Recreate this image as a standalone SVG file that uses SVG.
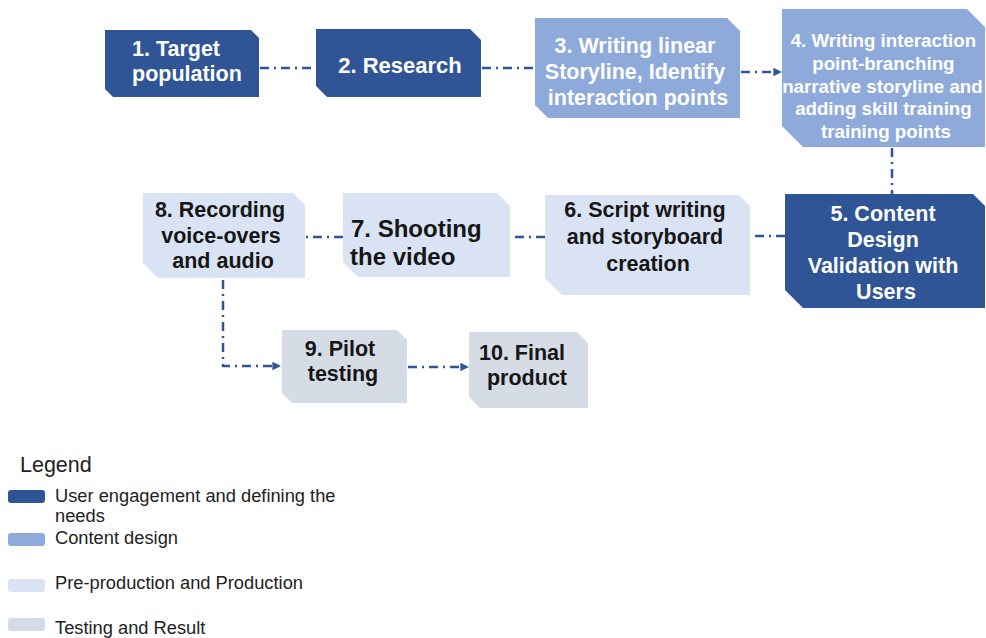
<svg xmlns="http://www.w3.org/2000/svg" width="986" height="638" viewBox="0 0 986 638">
  <style>
    .dark { fill: #2f5597; }
    .mid { fill: #8eaadb; }
    .light { fill: #dae3f3; }
    .test { fill: #d6dce5; }
    .lbl { font-family: "Liberation Sans", Arial, sans-serif; font-weight: bold; text-anchor: middle; }
    .w { fill: #ffffff; }
    .k { fill: #161616; }
    .conn { fill: none; stroke: #2f5597; stroke-width: 2.5; stroke-dasharray: 9 5 2 5; }
    .leg { font-family: "Liberation Sans", Arial, sans-serif; fill: #222222; font-size: 18.3px; }
  </style>
  <defs>
    <marker id="arrow" viewBox="0 0 10 10" refX="9" refY="5" markerWidth="3.4" markerHeight="3.4" orient="auto" markerUnits="strokeWidth">
      <path d="M0,0 L10,5 L0,10 z" fill="#2f5597"/>
    </marker>
  </defs>
  <rect width="986" height="638" fill="#ffffff"/>

  <!-- connectors -->
  <g id="connectors">
    <line class="conn" x1="260" y1="68" x2="316" y2="68"/>
    <line class="conn" x1="482" y1="68" x2="535" y2="68"/>
    <line class="conn" x1="741" y1="72" x2="781" y2="72" marker-end="url(#arrow)"/>
    <line class="conn" x1="892" y1="148" x2="892" y2="194"/>
    <line class="conn" x1="785" y1="236" x2="751" y2="236"/>
    <line class="conn" x1="545" y1="237" x2="511" y2="237"/>
    <line class="conn" x1="343" y1="237" x2="306" y2="237"/>
    <path class="conn" d="M223,280 L223,366 L280,366" marker-end="url(#arrow)"/>
    <line class="conn" x1="408" y1="367" x2="468" y2="367" marker-end="url(#arrow)"/>
  </g>

  <!-- process steps -->
  <g id="node1">
    <polygon class="dark" points="105,30 251,30 259,38 259,97 113,97 105,89"/>
    <text class="lbl w" font-size="21.5" style="text-anchor:start">
      <tspan x="132" y="56">1. Target</tspan>
      <tspan x="132" y="81">population</tspan>
    </text>
  </g>
  <g id="node2">
    <polygon class="dark" points="316,29 470,29 481,40 481,97 327,97 316,86"/>
    <text class="lbl w" font-size="22" x="400" y="73">2. Research</text>
  </g>
  <g id="node3">
    <polygon class="mid" points="535,18 727,18 740,31 740,118 548,118 535,105"/>
    <text class="lbl w" font-size="21.5">
      <tspan x="638" y="53">3. Writing linear</tspan>
      <tspan x="638" y="79">Storyline, Identify</tspan>
      <tspan x="638" y="105">interaction points</tspan>
    </text>
  </g>
  <g id="node4">
    <polygon class="mid" points="782,9 967,9 985,27 985,147 803,147 782,126"/>
    <text class="lbl w" font-size="18.7">
      <tspan x="886" y="47">4. Writing interaction</tspan>
      <tspan x="886" y="70">point-branching</tspan>
      <tspan x="885" y="93">narrative storyline and</tspan>
      <tspan x="886" y="115">adding skill training</tspan>
      <tspan x="886" y="138">training points</tspan>
    </text>
  </g>
  <g id="node5">
    <polygon class="dark" points="785,194 973,194 985,206 985,308 803,308 785,290"/>
    <text class="lbl w" font-size="21.5">
      <tspan x="886" y="221">5. Content</tspan>
      <tspan x="886" y="247">Design</tspan>
      <tspan x="886" y="273">Validation with</tspan>
      <tspan x="886" y="299">Users</tspan>
    </text>
  </g>
  <g id="node6">
    <polygon class="light" points="545,195 739,195 750,206 750,295 562,295 545,278"/>
    <text class="lbl k" font-size="21.5">
      <tspan x="648" y="217">6. Script writing</tspan>
      <tspan x="648" y="244">and storyboard</tspan>
      <tspan x="648" y="271">creation</tspan>
    </text>
  </g>
  <g id="node7">
    <polygon class="light" points="343,193 497,193 510,206 510,277 358,277 343,262"/>
    <text class="lbl k" font-size="24" style="text-anchor:start">
      <tspan x="351" y="237">7. Shooting</tspan>
      <tspan x="350" y="265">the video</tspan>
    </text>
  </g>
  <g id="node8">
    <polygon class="light" points="143,193 293,193 305,205 305,278 158,278 143,263"/>
    <text class="lbl k" font-size="21.5">
      <tspan x="223" y="217">8. Recording</tspan>
      <tspan x="224" y="243">voice-overs</tspan>
      <tspan x="223" y="268">and audio</tspan>
    </text>
  </g>
  <g id="node9">
    <polygon class="test" points="282,330 397,330 407,340 407,403 292,403 282,393"/>
    <text class="lbl k" font-size="21.5">
      <tspan x="343" y="356">9. Pilot</tspan>
      <tspan x="343" y="381">testing</tspan>
    </text>
  </g>
  <g id="node10">
    <polygon class="test" points="469,332 577,332 588,343 588,408 480,408 469,397"/>
    <text class="lbl k" font-size="21.5">
      <tspan x="525" y="360">10. Final</tspan>
      <tspan x="527" y="385">product</tspan>
    </text>
  </g>

  <!-- legend -->
  <g id="legend">
    <text class="leg" x="20" y="472" style="font-size:21.5px">Legend</text>
    <rect class="dark" x="8" y="490" width="37" height="13" rx="3"/>
    <text class="leg" x="55" y="502">User engagement and defining the</text>
    <text class="leg" x="55" y="522">needs</text>
    <rect class="mid" x="8" y="533" width="37" height="13" rx="3"/>
    <text class="leg" x="55" y="544">Content design</text>
    <rect class="light" x="8" y="579" width="37" height="13" rx="3"/>
    <text class="leg" x="55" y="589">Pre-production and Production</text>
    <rect class="test" x="8" y="618" width="37" height="13" rx="3"/>
    <text class="leg" x="55" y="634">Testing and Result</text>
  </g>
</svg>
